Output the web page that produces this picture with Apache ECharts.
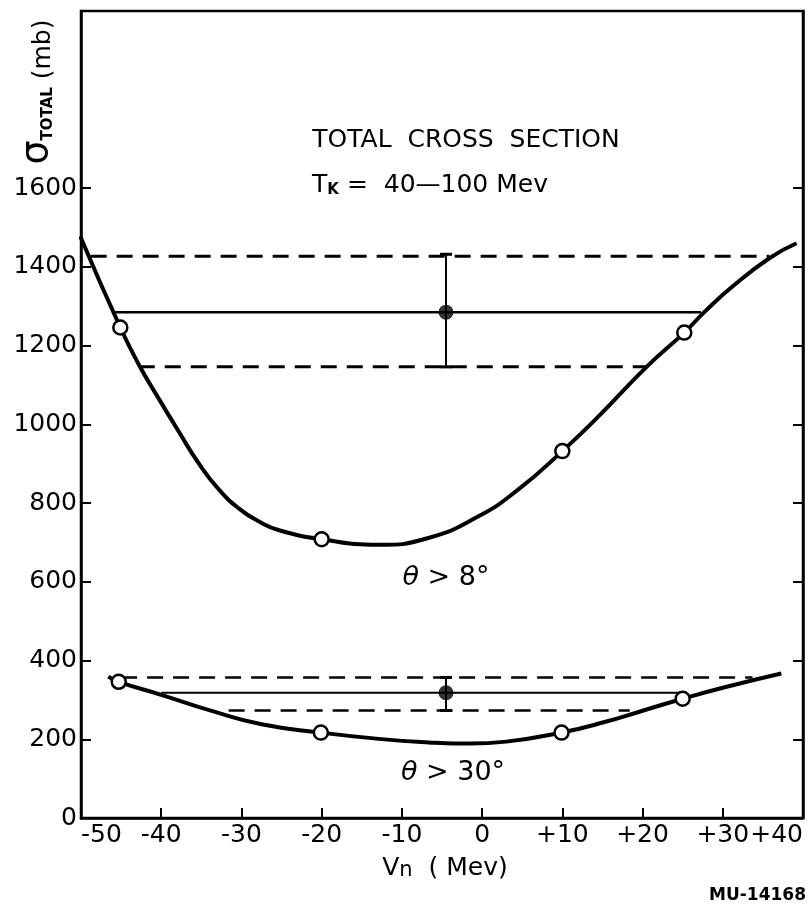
<!DOCTYPE html>
<html>
<head>
<meta charset="utf-8">
<script src="https://cdn.jsdelivr.net/npm/echarts@6/dist/echarts.min.js"></script>
<style>
  html, body { margin: 0; padding: 0; background: #fff; }
  #main { width: 808px; height: 908px; }
</style>
</head>
<body>
<div id="main"></div>
<script>
// values: [Vn (Mev), sigma total (mb)]
var upperCurve = [[-50.1, 1478], [-45.1, 1246], [-42.8, 1152], [-40.3, 1065], [-37.8, 981], [-35.3, 900],
  [-32.8, 834], [-30.3, 786], [-27.8, 753], [-25.3, 731], [-20.0, 708], [-12.9, 694], [-6.6, 712],
  [-0.4, 767], [4.6, 836], [10.0, 932], [14.6, 1022], [20.5, 1146], [25.2, 1233], [27.7, 1285],
  [31.2, 1350], [35.8, 1422], [39.2, 1460]];
var lowerCurve = [[-46.6, 359], [-45.3, 346], [-40.0, 313], [-33.7, 272], [-27.5, 238], [-20.1, 217],
  [-12.9, 201], [-6.6, 192], [-1.5, 189], [3.0, 194], [9.9, 217], [15.5, 245], [19.6, 270],
  [25.0, 303], [30.0, 331], [37.3, 367]];
var upperOpen = [[-45.1, 1246], [-20.0, 708], [10.0, 932], [25.2, 1233]];
var lowerOpen = [[-45.3, 346], [-20.1, 217], [9.9, 217], [25.0, 303]];
// mean with error bar: [Vn, low, high, mean]
var errBars = [[-4.5, 1146, 1432, 1285], [-4.5, 273, 357, 318]];
// horizontal levels: [value, from Vn, to Vn]
var upperMean = [1285, -45.9, 27.3];
var upperHigh = [1427, -48.8, 35.8];
var upperLow = [1146, -42.8, 20.5];
var lowerMean = [318, -40.0, 25.5];
var lowerHigh = [357, -45.0, 33.7];
var lowerLow = [273, -31.6, 18.4];
var yTicks = [0, 200, 400, 600, 800, 1000, 1200, 1400, 1600];

var FONT = 'DejaVu Sans';

function level(lv) {
  return [[lv[1], lv[0]], [lv[2], lv[0]]];
}

function hline(lv, width, dashed) {
  return {
    type: 'line', data: level(lv), showSymbol: false, silent: true,
    lineStyle: { color: '#000', width: width, type: dashed ? [16, 10] : 'solid' }
  };
}

function curve(pts) {
  return {
    type: 'line', data: pts, smooth: 0.5, showSymbol: false, silent: true,
    lineStyle: { color: '#000', width: 4 }
  };
}

var chart = echarts.init(document.getElementById('main'), null, { renderer: 'canvas' });

var option = {
  backgroundColor: '#fff',
  animation: false,
  grid: {
    left: 81, right: 5, top: 11, bottom: 90,
    show: true, borderColor: '#000', borderWidth: 2.5, backgroundColor: 'transparent'
  },
  xAxis: {
    type: 'value', min: -50, max: 40, interval: 10,
    axisLine: { onZero: false, lineStyle: { color: '#000', width: 2.5 } },
    axisTick: { inside: true, length: 10, lineStyle: { color: '#000', width: 2 } },
    splitLine: { show: false },
    axisLabel: {
      color: '#000', fontSize: 25, fontFamily: FONT, margin: 5,
      alignMinLabel: 'left', alignMaxLabel: 'right',
      formatter: function (v) { return v > 0 ? '+' + v : String(v); }
    }
  },
  yAxis: [{
    type: 'value', min: 0, max: 2050, interval: 200,
    axisLine: { onZero: false, lineStyle: { color: '#000', width: 2.5 } },
    axisTick: { inside: true, length: 10, customValues: yTicks, lineStyle: { color: '#000', width: 2 } },
    splitLine: { show: false },
    axisLabel: {
      color: '#000', fontSize: 25, fontFamily: FONT, margin: 4, customValues: yTicks,
      formatter: function (v) { return v > 1600 ? '' : String(v); }
    }
  }, {
    type: 'value', min: 0, max: 2050, interval: 200, position: 'right',
    axisLine: { show: true, onZero: false, lineStyle: { color: '#000', width: 2.5 } },
    axisTick: { show: true, inside: true, length: 10, customValues: yTicks, lineStyle: { color: '#000', width: 2 } },
    axisLabel: { show: false },
    splitLine: { show: false }
  }],
  series: [
    hline(upperHigh, 3, true),
    hline(upperMean, 2.5, false),
    hline(upperLow, 3, true),
    hline(lowerHigh, 2.5, true),
    hline(lowerMean, 2, false),
    hline(lowerLow, 2.5, true),
    curve(upperCurve),
    curve(lowerCurve),
    {
      type: 'custom', data: errBars, silent: true,
      renderItem: function (params, api) {
        var lo = api.coord([api.value(0), api.value(1)]);
        var hi = api.coord([api.value(0), api.value(2)]);
        var cap = 6;
        var capStyle = { stroke: '#000', lineWidth: 3 };
        return {
          type: 'group', children: [
            { type: 'line', shape: { x1: lo[0], y1: lo[1], x2: hi[0], y2: hi[1] }, style: { stroke: '#000', lineWidth: 2 } },
            { type: 'line', shape: { x1: hi[0] - cap, y1: hi[1], x2: hi[0] + cap, y2: hi[1] }, style: capStyle },
            { type: 'line', shape: { x1: lo[0] - cap, y1: lo[1], x2: lo[0] + cap, y2: lo[1] }, style: capStyle }
          ]
        };
      },
      encode: { x: 0, y: [1, 2] }
    },
    {
      type: 'scatter', data: errBars.map(function (e) { return [e[0], e[3]]; }), z: 5,
      symbol: 'circle', symbolSize: 15, silent: true,
      itemStyle: { color: '#000' }
    },
    {
      type: 'scatter', data: upperOpen.concat(lowerOpen), z: 5,
      symbol: 'circle', symbolSize: 14, silent: true,
      itemStyle: { color: '#ffffff', borderColor: '#000', borderWidth: 2.5, opacity: 1 }
    }
  ],
  graphic: [
    {
      type: 'text', x: 38, y: 92, rotation: Math.PI / 2,
      style: {
        text: '{s|σ}{sub|TOTAL}{m| (mb)}', textAlign: 'center', textVerticalAlign: 'middle', fill: '#000',
        rich: {
          s: { fontSize: 38, fontFamily: FONT, lineHeight: 36, verticalAlign: 'bottom' },
          sub: { fontSize: 15, fontFamily: FONT, fontWeight: 'bold', verticalAlign: 'bottom', lineHeight: 15 },
          m: { fontSize: 25, fontFamily: FONT, verticalAlign: 'bottom', lineHeight: 28 }
        }
      }
    },
    {
      type: 'text', x: 466, y: 140,
      style: {
        text: 'TOTAL  CROSS  SECTION', textAlign: 'center', textVerticalAlign: 'middle', fill: '#000',
        font: '25px "' + FONT + '"'
      }
    },
    {
      type: 'text', x: 430, y: 184,
      style: {
        text: '{t|T}{sub|K}{m| =  40—100 Mev}', textAlign: 'center', textVerticalAlign: 'middle', fill: '#000',
        rich: {
          t: { fontSize: 25, fontFamily: FONT, verticalAlign: 'bottom', lineHeight: 28 },
          sub: { fontSize: 15, fontFamily: FONT, fontWeight: 'bold', verticalAlign: 'bottom', lineHeight: 14 },
          m: { fontSize: 25, fontFamily: FONT, verticalAlign: 'bottom', lineHeight: 28 }
        }
      }
    },
    {
      type: 'text', x: 446, y: 578,
      style: {
        text: '{th|θ}{m| > 8°}', textAlign: 'center', textVerticalAlign: 'middle', fill: '#000',
        rich: {
          th: { fontSize: 27, fontFamily: FONT, fontStyle: 'italic' },
          m: { fontSize: 27, fontFamily: FONT }
        }
      }
    },
    {
      type: 'text', x: 453, y: 773,
      style: {
        text: '{th|θ}{m| > 30°}', textAlign: 'center', textVerticalAlign: 'middle', fill: '#000',
        rich: {
          th: { fontSize: 27, fontFamily: FONT, fontStyle: 'italic' },
          m: { fontSize: 27, fontFamily: FONT }
        }
      }
    },
    {
      type: 'text', x: 445, y: 868,
      style: {
        text: '{v|V}{sub|n}{m|  ( Mev)}', textAlign: 'center', textVerticalAlign: 'middle', fill: '#000',
        rich: {
          v: { fontSize: 25, fontFamily: FONT, verticalAlign: 'bottom', lineHeight: 26 },
          sub: { fontSize: 21, fontFamily: FONT, verticalAlign: 'bottom', lineHeight: 10 },
          m: { fontSize: 25, fontFamily: FONT, verticalAlign: 'bottom', lineHeight: 26 }
        }
      }
    },
    {
      type: 'text', x: 806, y: 896,
      style: {
        text: 'MU-14168', textAlign: 'right', textVerticalAlign: 'middle', fill: '#000',
        font: 'bold 17px "' + FONT + '"'
      }
    }
  ]
};

chart.setOption(option);
</script>
</body>
</html>
